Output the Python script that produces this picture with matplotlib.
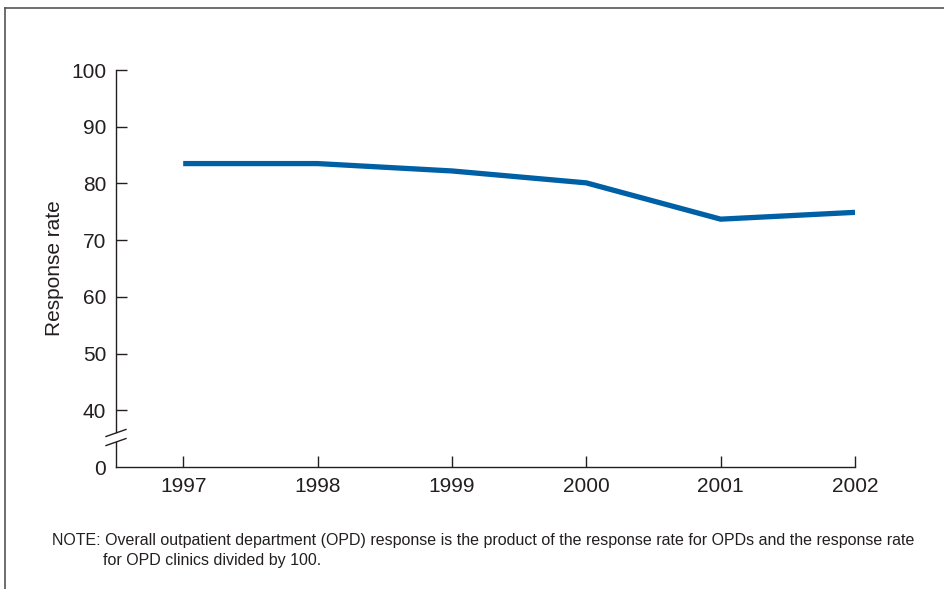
import numpy as np
import matplotlib
matplotlib.use('Agg')
import matplotlib.pyplot as plt
from matplotlib.lines import Line2D

plt.rcParams['font.family'] = ['Liberation Sans', 'DejaVu Sans']

# data
years = [1997, 1998, 1999, 2000, 2001, 2002]
response_rate = [83.5, 83.5, 82.2, 80.1, 73.7, 74.9]
ytick_values = [40, 50, 60, 70, 80, 90, 100]

txt_color = '#231f20'
line_color = '#0060a6'

fig = plt.figure(figsize=(9.45, 5.89), dpi=100)
W, H = 945., 589.
ax = fig.add_axes([116/W, 1-467/H, (855-116)/W, (467-70)/H])

ax.plot(years, response_rate, color=line_color, lw=3.8, solid_capstyle='butt',
        solid_joinstyle='miter')

# 0 is drawn at 30 on the scale (broken axis)
y_zero = 30
ax.set_xlim(1996.5, 2002)
ax.set_ylim(y_zero, 100)
ax.set_yticks([y_zero] + ytick_values)
ax.set_yticklabels(['0'] + [str(v) for v in ytick_values])
ax.set_xticks(years)
ax.set_xticklabels([str(y) for y in years])

for s in ['top', 'right']:
    ax.spines[s].set_visible(False)
for s in ['left', 'bottom']:
    ax.spines[s].set_linewidth(1.0)
    ax.spines[s].set_color(txt_color)
ax.spines['left'].set_bounds(36.1, 100)

ax.tick_params(direction='in', length=8, width=1.0, color=txt_color,
               labelsize=15, labelcolor=txt_color, pad=7)
ax.yaxis.get_major_ticks()[0].tick1line.set_visible(False)

# lower stub of axis and break marks
x0 = 1996.5
ax.plot([x0, x0], [y_zero, 34.4], color=txt_color, lw=1.0, clip_on=False)
dx = 10/134.4
dy = 0.62
for yc in [36.0, 34.4]:
    ax.plot([x0-dx, x0+dx], [yc-dy, yc+dy], color=txt_color, lw=1.0, clip_on=False)

ax.set_ylabel('Response rate', fontsize=15, color=txt_color)
ax.yaxis.set_label_coords((64-116)/(855-116), 0.5)

fig.text(52/W, 1-540/H, 'NOTE: Overall outpatient department (OPD) response is the product of the response rate for OPDs and the response rate',
         fontsize=11.5, color=txt_color, va='center', ha='left')
fig.text(103/W, 1-560/H, 'for OPD clinics divided by 100.',
         fontsize=11.5, color=txt_color, va='center', ha='left')

# frame lines (left and top)
fig.add_artist(Line2D([4.5/W, 4.5/W], [0, 1-7.5/H], transform=fig.transFigure,
                      color='#555555', lw=1.2))
fig.add_artist(Line2D([4.5/W, 1], [1-7.5/H, 1-7.5/H], transform=fig.transFigure,
                      color='#555555', lw=1.2))

fig.savefig('out.png', dpi=100)
